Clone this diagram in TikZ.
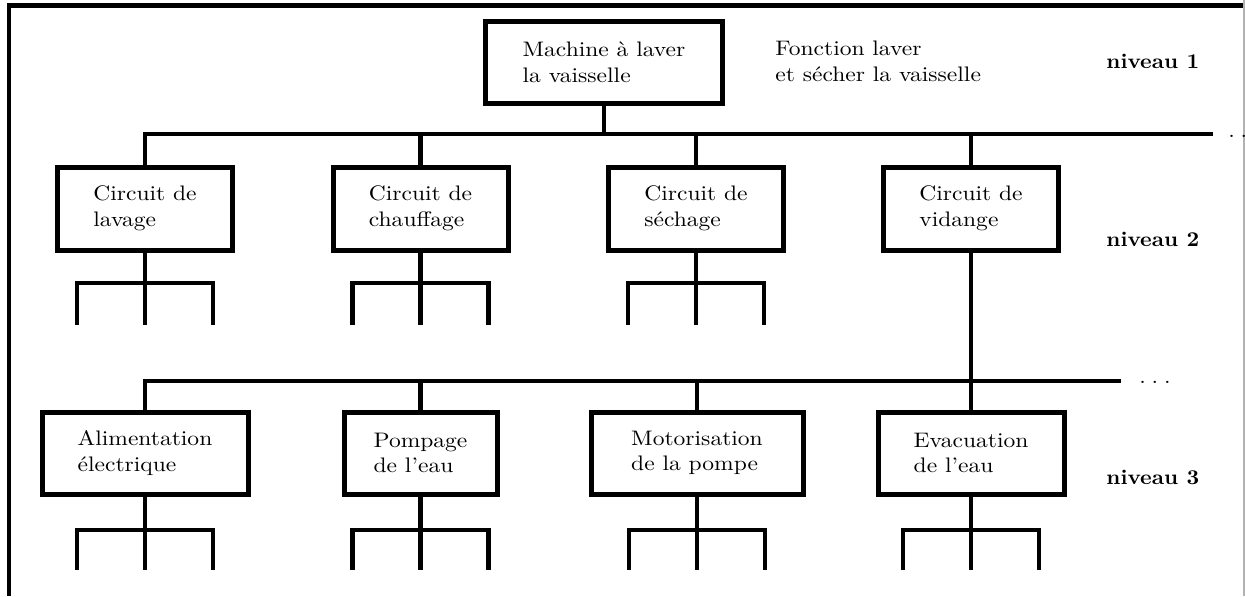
\documentclass[tikz,border=0pt]{standalone}
\usepackage{fontspec}
\usetikzlibrary{calc}
\newfontfamily\widerm{lmroman10-regular.otf}[Ligatures=TeX, FakeStretch=1.12, BoldFont=lmroman10-bold.otf, BoldFeatures={FakeStretch=1.05}]
\newcommand\boxfont{\widerm\fontsize{10.5}{12.8}\selectfont}
\newcommand\lvlfont{\widerm\fontsize{10.5}{12.8}\selectfont\bfseries}
\newcommand\threedots{.\hspace{2.9pt}.\hspace{2.9pt}.}
\tikzset{
  box/.style={draw, line width=2.5pt, inner sep=0pt, align=left, font=\boxfont},
  conn/.style={line width=2.25pt},
  txt/.style={inner sep=0pt, align=left, font=\boxfont},
  lvl/.style={inner sep=0pt, font=\lvlfont},
}
\newcommand\legset[3]{%
  \coordinate (#1-j) at ($(#1.south)+(0,#2)$);
  \draw[conn] (#1.south) -- (#1-j);
  \draw[conn] ($(#1-j)+(-68,#3)$) |- ($(#1-j)+(68,0)$) -- ++(0,#3);
  \draw[conn] (#1-j) -- ++(0,#3);
}
\begin{document}
\begin{tikzpicture}[x=0.5pt,y=-0.5pt]
\useasboundingbox (0,0) rectangle (1245,596);
% frame
\draw[line width=2.25pt] (9,596) -- (9,5.3) -- (1243,5.3);
\draw[gray!60, line width=0.6pt] (1244,0) -- (1244,596);

% level 1
\node[box, minimum width=118.5pt, minimum height=41pt] (top) at (604,62) {Machine à laver\\la vaisselle};
\node[txt, anchor=north west] (fct) at (775,40.5) {Fonction laver\\et sécher la vaisselle};
\node[lvl, anchor=base west] (n1) at (1106,68) {niveau 1};

% level 2
\node[box, minimum width=87.5pt, minimum height=41.5pt] (lavage) at (145,208.5) {Circuit de\\lavage};
\node[box, minimum width=87.5pt, minimum height=41.5pt] (chauffage) at (420.5,208.5) {Circuit de\\chauffage};
\node[box, minimum width=87.5pt, minimum height=41.5pt] (sechage) at (696,208.5) {Circuit de\\séchage};
\node[box, minimum width=87.5pt, minimum height=41.5pt] (vidange) at (971,208.5) {Circuit de\\vidange};
\node[lvl, anchor=base west] (n2) at (1106,246) {niveau 2};

% level 3
\node[box, minimum width=103pt, minimum height=41pt] (alim) at (145,453) {Alimentation\\électrique};
\node[box, minimum width=76.5pt, minimum height=41pt] (pompage) at (420.5,453) {Pompage\\de l'eau};
\node[box, minimum width=106pt, minimum height=41pt] (motor) at (697,453) {Motorisation\\de la pompe};
\node[box, minimum width=93pt, minimum height=41pt] (evac) at (971,453) {Evacuation\\de l'eau};
\node[lvl, anchor=base west] (n3) at (1106,484) {niveau 3};

% bus level 1
\coordinate (b1) at (1213,134);
\draw[conn] (lavage.north) |- (b1);
\draw[conn] (top.south) -- (top.south |- b1);
\draw[conn] (chauffage.north) -- (chauffage.north |- b1);
\draw[conn] (sechage.north) -- (sechage.north |- b1);
\draw[conn] (vidange.north) -- (vidange.north |- b1);
\node[txt, anchor=base west] (d1) at (1228,137) {\threedots};

% bus level 3
\coordinate (b3) at (1121,381);
\draw[conn] (alim.north) |- (b3);
\draw[conn] (vidange.south) -- (evac.north);
\draw[conn] (pompage.north) -- (pompage.north |- b3);
\draw[conn] (motor.north) -- (motor.north |- b3);
\node[txt, anchor=base west] (d3) at (1139,383) {\threedots};

% legs
\legset{lavage}{30.5}{41.5}
\legset{chauffage}{30.5}{41.5}
\legset{sechage}{30.5}{41.5}
\legset{alim}{33.5}{39.5}
\legset{pompage}{33.5}{39.5}
\legset{motor}{33.5}{39.5}
\legset{evac}{33.5}{39.5}
\end{tikzpicture}
\end{document}
